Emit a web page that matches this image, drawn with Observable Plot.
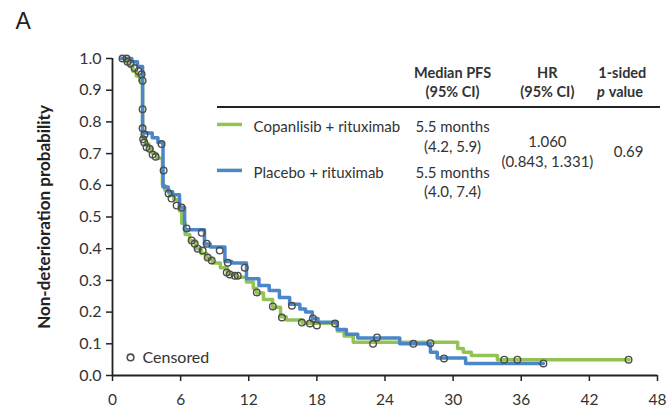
<!DOCTYPE html>
<html><head><meta charset="utf-8">
<script src="https://cdn.jsdelivr.net/npm/d3@7"></script>
<script src="https://cdn.jsdelivr.net/npm/@observablehq/plot@0.6"></script>
<style>body{margin:0;background:#fff} svg{display:block}</style>
</head><body><div id="chart"></div>
<script>
// ---- data ----
const copanTimes = [0.8,1.2,1.5,1.8,2.1,2.4,2.65,2.9,3.2,3.5,3.9,4.4,4.6,5.0,5.4,5.9,6.1,6.4,6.8,7.3,7.8,8.3,8.8,9.5,10.1,10.9,11.8,12.4,12.7,13.3,14.1,14.8,15.3,16.7,19.8,20.4,21.2,30.4,30.9,31.6,33.9,45.5];
const copanSurv  = [1.0,0.99,0.975,0.96,0.945,0.93,0.75,0.73,0.715,0.70,0.685,0.60,0.585,0.57,0.555,0.52,0.48,0.445,0.425,0.40,0.385,0.37,0.355,0.34,0.32,0.31,0.295,0.275,0.26,0.24,0.215,0.185,0.175,0.165,0.14,0.125,0.105,0.085,0.073,0.063,0.05,0.05];
const placeboTimes = [0.8,1.7,2.2,2.65,3.5,4.0,4.45,4.9,5.3,5.9,6.35,8.1,8.6,9.9,10.5,11.8,12.9,13.8,14.7,15.6,16.5,17.0,17.6,18.1,19.8,20.6,21.6,25.3,28.0,28.6,31.1,37.95];
const placeboSurv  = [1.0,0.99,0.975,0.765,0.75,0.735,0.595,0.58,0.57,0.53,0.46,0.415,0.405,0.36,0.355,0.305,0.284,0.268,0.246,0.225,0.21,0.2,0.18,0.168,0.145,0.13,0.118,0.10,0.073,0.055,0.038,0.038];
const copanCensorT = [1.32,1.59,1.94,2.29,2.56,2.7,2.8,3.0,3.27,3.53,3.8,4.94,5.2,5.65,6.53,6.97,7.24,7.5,7.94,8.38,8.74,10.06,10.33,10.77,11.03,12.71,14.12,14.92,16.68,17.39,18.0,22.95,28.0,34.5,35.66,45.45];
const copanCensorS = [0.99,0.984,0.97,0.96,0.95,0.745,0.735,0.72,0.715,0.697,0.69,0.574,0.558,0.536,0.464,0.426,0.416,0.40,0.394,0.372,0.363,0.325,0.319,0.315,0.315,0.262,0.218,0.183,0.167,0.164,0.158,0.10,0.102,0.05,0.05,0.05];
const placeboCensorT = [0.88,1.24,2.65,2.65,2.65,2.82,4.32,4.5,6.09,7.86,8.3,9.44,10.15,11.65,15.8,17.65,19.6,23.3,26.5,29.2,37.95];
const placeboCensorS = [1.0,1.0,0.93,0.84,0.78,0.76,0.73,0.647,0.53,0.45,0.416,0.394,0.356,0.34,0.22,0.18,0.164,0.12,0.10,0.054,0.038];
const xTicks = [0,6,12,18,24,30,36,42,48];
const yTicks = [0,0.1,0.2,0.3,0.4,0.5,0.6,0.7,0.8,0.9,1.0];
const seriesNames = ["Copanlisib + rituximab", "Placebo + rituximab"];
const headerLine1 = ["Median PFS", "HR", "1-sided"];
const headerLine2 = ["(95% CI)", "(95% CI)"];
const medianPFS = ["5.5 months", "5.5 months"];
const medianCI = ["(4.2, 5.9)", "(4.0, 7.4)"];
const hrValue = "1.060";
const hrCI = "(0.843, 1.331)";
const pValue = "0.69";
const yLabel = "Non-deterioration probability";
const panelLabel = "A";
const censorLabel = "Censored";

// ---- styles ----
const GREEN = "#92c353";
const BLUE = "#4a86c8";
const TXT = "#333";
const FONT = "Lato, 'Open Sans', sans-serif";

const copan = copanTimes.map((t, i) => ({t, s: copanSurv[i]}));
const placebo = placeboTimes.map((t, i) => ({t, s: placeboSurv[i]}));
const censors = [
  ...copanCensorT.map((t, i) => ({t, s: copanCensorS[i]})),
  ...placeboCensorT.map((t, i) => ({t, s: placeboCensorS[i]}))
];

// table layout (data coordinates: months, probability)
const colX = [29.95, 38.3, 44.9];
const header1 = headerLine1.map((text, i) => ({text, x: colX[i], y: 0.953}));
const header2 = headerLine2.map((text, i) => ({text, x: colX[i], y: 0.893}));
const rowY = [0.782, 0.637];
const rowY2 = [0.719, 0.577];
const legendColors = [GREEN, BLUE];
const legendLines = seriesNames.map((n, i) => ({x1: 9.25, x2: 11.45, y: rowY[i] + 0.01, c: legendColors[i]}));

const chart = Plot.plot({
  width: 668, height: 411,
  marginLeft: 112, marginRight: 11, marginTop: 58, marginBottom: 36,
  style: {fontFamily: FONT, fontSize: "15px", color: TXT, background: "#fff"},
  x: {domain: [0, 48]},
  y: {domain: [0, 1]},
  marks: [
    Plot.axisX({ticks: xTicks, tickSize: 6, tickPadding: 12, tickFormat: d => String(d), stroke: "#222", strokeWidth: 1.5, fill: TXT, fontSize: 15.5, label: null}),
    Plot.axisY({ticks: yTicks, tickSize: 6, tickPadding: 5, tickFormat: d3.format(".1f"), stroke: "#222", strokeWidth: 1.5, fill: TXT, fontSize: 16, label: null}),
    Plot.ruleX([0], {stroke: "#222", strokeWidth: 1.8}),
    Plot.ruleY([0], {stroke: "#222", strokeWidth: 1.8}),
    Plot.line(copan, {x: "t", y: "s", curve: "step-after", stroke: GREEN, strokeWidth: 3.5}),
    Plot.line(placebo, {x: "t", y: "s", curve: "step-after", stroke: BLUE, strokeWidth: 3.5}),
    Plot.dot(censors, {x: "t", y: "s", r: 3.3, stroke: "#4d4d4d", strokeWidth: 1.4, fill: "none"}),
    // table
    Plot.text(header1, {x: "x", y: "y", text: "text", fontWeight: "bold", fontSize: 14.5, fill: TXT}),
    Plot.text(header2, {x: "x", y: "y", text: "text", fontWeight: "bold", fontSize: 14.5, fill: TXT}),
    Plot.text(["p"], {x: 43.35, y: 0.893, text: d => d, textAnchor: "end", fontWeight: "bold", fontStyle: "italic", fontSize: 14.5, fill: TXT}),
    Plot.text(["value"], {x: 43.7, y: 0.893, text: d => d, textAnchor: "start", fontWeight: "bold", fontSize: 14.5, fill: TXT}),
    Plot.ruleY([0.847], {x1: 9.25, x2: 48.26, stroke: "#222", strokeWidth: 1.8, clip: false}),
    Plot.ruleY(legendLines, {x1: "x1", x2: "x2", y: "y", stroke: "c", strokeWidth: 3.5}),
    Plot.text(seriesNames, {x: 12.42, y: (d, i) => rowY[i], text: d => d, textAnchor: "start", fontSize: 15, fill: TXT}),
    Plot.text(medianPFS, {x: colX[0], y: (d, i) => rowY[i], text: d => d, fontSize: 15, fill: TXT}),
    Plot.text(medianCI, {x: colX[0], y: (d, i) => rowY2[i], text: d => d, fontSize: 15, fill: TXT}),
    Plot.text([hrValue], {x: colX[1], y: 0.735, text: d => d, fontSize: 15, fill: TXT}),
    Plot.text([hrCI], {x: colX[1], y: 0.672, text: d => d, fontSize: 15, fill: TXT}),
    Plot.text([pValue], {x: 45.45, y: 0.703, text: d => d, fontSize: 15, fill: TXT}),
    // censored legend
    Plot.dot([censorLabel], {x: 1.59, y: 0.057, r: 3.3, stroke: "#4d4d4d", strokeWidth: 1.6, fill: "none"}),
    Plot.text([censorLabel], {x: 2.64, y: 0.057, text: d => d, textAnchor: "start", fontSize: 16, fill: TXT}),
    // labels
    Plot.text([yLabel], {frameAnchor: "left", dx: -68, rotate: -90, textAnchor: "middle", text: d => d, fontWeight: "bold", fontSize: 17, fill: "#222"}),
    Plot.text([panelLabel], {frameAnchor: "top-left", dx: -97, dy: -46, textAnchor: "start", lineAnchor: "top", text: d => d, fontSize: 23, fill: "#222", fontFamily: "'Liberation Sans', Arial, sans-serif"})
  ]
});
document.getElementById("chart").appendChild(chart);
</script>
</body></html>
